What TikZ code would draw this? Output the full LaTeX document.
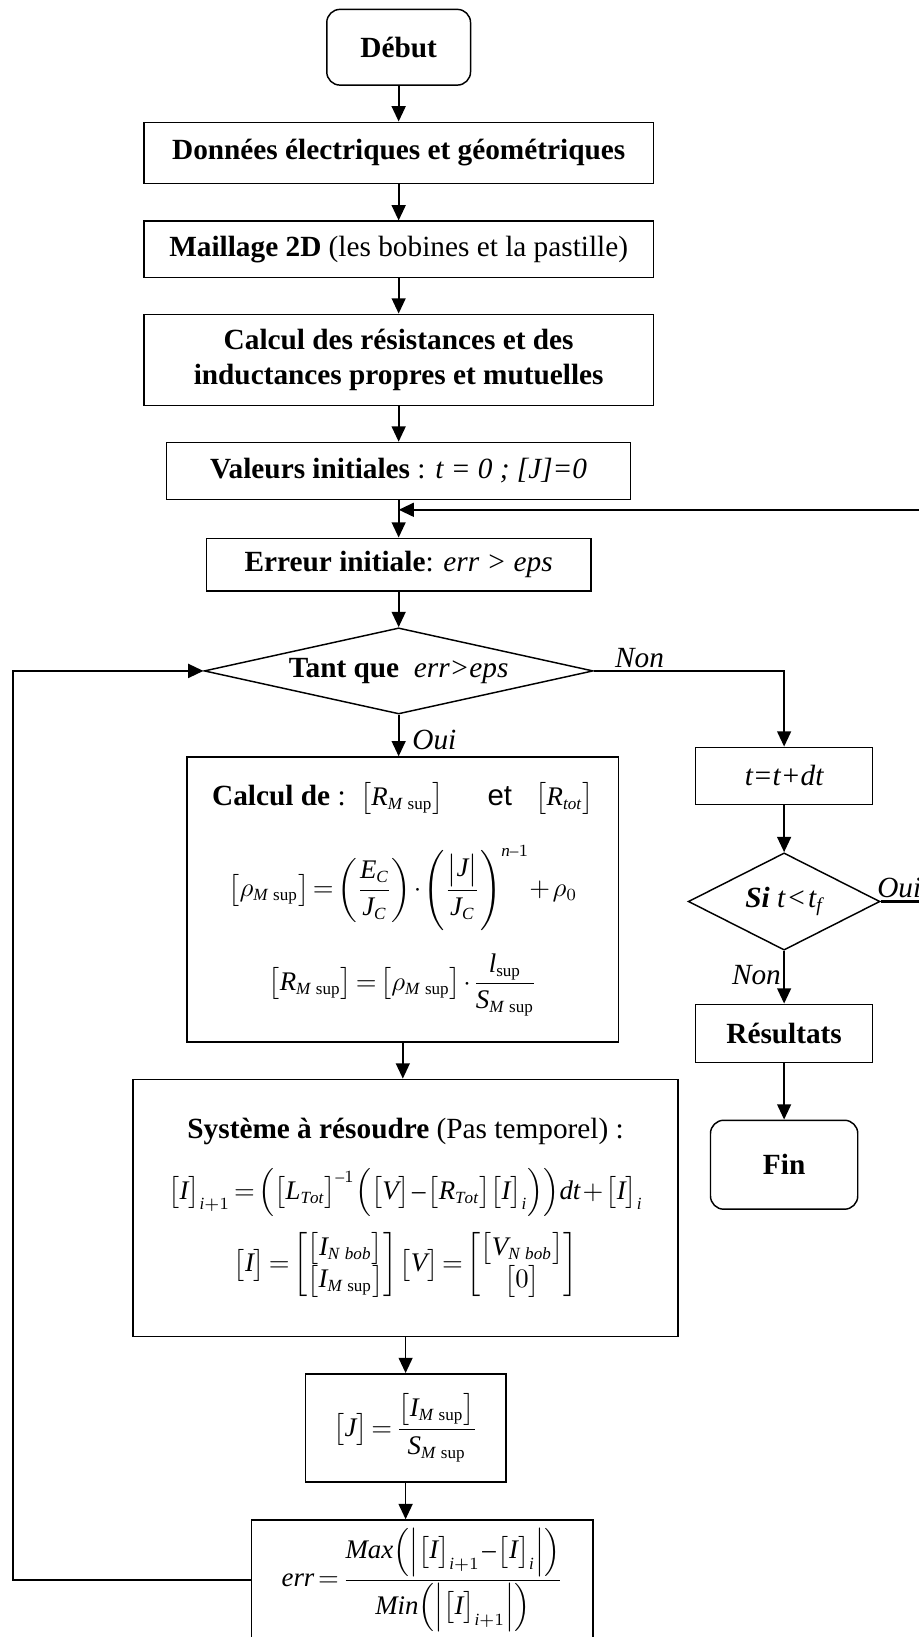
\documentclass[tikz,border=0pt,12pt]{standalone}
\usepackage{amsmath}
\usepackage{fontspec}
\setmainfont{Liberation Serif}
\setsansfont{Liberation Sans}
\usepackage[italic]{mathastext}
\usetikzlibrary{arrows.meta,shapes.geometric}

\DeclareMathSizes{11}{11}{7}{5}
\DeclareMathSizes{12}{12}{8}{6}
\newcommand{\Msup}{M\mkern5mu\mathrm{sup}}
\newcommand{\Nbob}{N\mkern5mu bob}
\newcommand{\eqsize}{\fontsize{11}{13}\selectfont
  \thickmuskip=2.5mu\medmuskip=1.5mu\thinmuskip=1.5mu}

\begin{document}
\begin{tikzpicture}[
    x=1cm, y=1cm,
    box/.style={draw, line width=0.6pt, align=center, inner sep=0pt},
    term/.style={box, rounded corners=0.19cm, font=\bfseries},
    test/.style={draw, line width=0.6pt, diamond, align=center, inner sep=0pt},
    eqbox/.style={box, font=\eqsize},
    arr/.style={-{Triangle[length=2.2mm,width=2mm]}, line width=0.7pt},
    loop/.style={arr, line width=0.9pt},
    lbl/.style={font=\itshape, inner sep=1pt}
  ]
    \useasboundingbox (0,0) rectangle (13.22,-23.57);

    \node[term, minimum width=2.07cm, minimum height=1.09cm] (debut) at (5.74,-0.68) {Début};
    \node[box, minimum width=7.34cm, minimum height=0.88cm, font=\bfseries] (donnees) at (5.74,-2.20)
      {Données électriques et géométriques};
    \node[box, minimum width=7.34cm, minimum height=0.81cm] (maillage) at (5.74,-3.59)
      {\textbf{Maillage 2D} (les bobines et la pastille)};
    \node[box, minimum width=7.34cm, minimum height=1.31cm, font=\bfseries] (resind) at (5.74,-5.18)
      {Calcul des résistances et des\\inductances propres et mutuelles};
    \node[box, minimum width=6.68cm, minimum height=0.82cm] (valinit) at (5.74,-6.78)
      {\textbf{Valeurs initiales} : \textit{t = 0 ; [J]=0}};
    \node[box, minimum width=5.54cm, minimum height=0.76cm] (errinit) at (5.74,-8.13)
      {\textbf{Erreur initiale}: \textit{err > eps}};
    \node[test, aspect=4.5, minimum width=5.60cm, minimum height=1.24cm] (tantque) at (5.74,-9.66)
      {\textbf{Tant que}\ \ \textit{err>eps}};

    \node[box, minimum width=6.21cm, minimum height=4.10cm] (calc) at (5.80,-12.95) {%
      \textbf{Calcul de} :\hspace{0.5em}{\eqsize$\bigl[R_{\Msup}\bigr]$}\hspace{1.5em}\textsf{et}\hspace{0.8em}{\eqsize$\bigl[R_{tot}\bigr]$}\\[4mm]
      {\eqsize$\displaystyle \bigl[\rho_{\Msup}\bigr]=\left(\frac{E_C}{J_C}\right)\cdot\left(\frac{\bigl|J\bigr|}{J_C}\right)^{n-1}\!+\rho_0$}\\[3mm]
      {\eqsize$\displaystyle \bigl[R_{\Msup}\bigr]=\bigl[\rho_{\Msup}\bigr]\cdot\frac{l_{\mathrm{sup}}}{S_{\Msup}}$}};
    \node[box, minimum width=7.85cm, minimum height=3.70cm] (systeme) at (5.84,-17.39) {%
      \textbf{Système à résoudre} (Pas temporel) :\\[3mm]
      {\eqsize$\displaystyle \bigl[I\bigr]_{i+1}=\Bigl(\bigl[L_{Tot}\bigr]^{-1}\Bigl(\bigl[V\bigr]-\bigl[R_{Tot}\bigr]\bigl[I\bigr]_i\Bigr)\Bigr)dt+\bigl[I\bigr]_i$}\\[2mm]
      {\eqsize$\displaystyle \bigl[I\bigr]=\begin{bmatrix}\bigl[I_{\Nbob}\bigr]\\ \bigl[I_{\Msup}\bigr]\end{bmatrix}\bigl[V\bigr]=\begin{bmatrix}\bigl[V_{\Nbob}\bigr]\\ \bigl[0\bigr]\end{bmatrix}$}};
    \node[eqbox, minimum width=2.89cm, minimum height=1.56cm] (jsup) at (5.84,-20.56)
      {$\displaystyle \bigl[J\bigr]=\frac{\bigl[I_{\Msup}\bigr]}{S_{\Msup}}$};
    \node[eqbox, minimum width=4.91cm, minimum height=1.73cm] (err) at (6.08,-22.75)
      {$\displaystyle err=\frac{Max\Bigl(\Bigl|\bigl[I\bigr]_{i+1}-\bigl[I\bigr]_i\Bigr|\Bigr)}{Min\Bigl(\Bigl|\bigl[I\bigr]_{i+1}\Bigr|\Bigr)}$};

    \node[box, minimum width=2.55cm, minimum height=0.82cm, font=\itshape] (tdt) at (11.29,-11.17) {t=t+dt};
    \node[test, aspect=2, minimum width=2.76cm, minimum height=1.40cm] (si) at (11.29,-12.98)
      {\textbf{\textit{Si}} $t\!<\!t_f$};
    \node[box, minimum width=2.55cm, minimum height=0.84cm, font=\bfseries] (res) at (11.29,-14.88) {Résultats};
    \node[term, minimum width=2.12cm, minimum height=1.28cm] (fin) at (11.29,-16.77) {Fin};

    \coordinate (join)  at (5.74,-7.34);
    \coordinate (rloop) at (13.60,-7.34);
    \coordinate (lloop) at (0.19,-22.75);

    \draw[arr] (debut) -- (donnees);
    \draw[arr] (donnees) -- (maillage);
    \draw[arr] (maillage) -- (resind);
    \draw[arr] (resind) -- (valinit);
    \draw[arr] (valinit) -- (errinit);
    \draw[arr] (errinit) -- (tantque);
    \draw[arr] (tantque) -- (tantque |- calc.north) node[lbl, right=0.15cm, pos=0.6] {Oui};
    \draw[arr] (calc.south) -- (calc.south |- systeme.north);
    \draw[arr] (systeme) -- (jsup);
    \draw[arr] (jsup) -- (jsup |- err.north);

    \draw[arr] (tantque) -- node[lbl, above, pos=0.24] {Non} (tantque -| tdt) -- (tdt);
    \draw[arr] (tdt) -- (si);
    \draw[arr] (si) -- (res) node[lbl, left, pos=0.45] {Non};
    \draw[arr] (res) -- (fin);

    \draw[loop] (si) -- node[lbl, anchor=south west, pos=0, xshift=-1mm] {Oui} (si -| rloop) -- (rloop) -- (join);
    \draw[loop] (err) -- (lloop) -- (lloop |- tantque) -- (tantque);
\end{tikzpicture}
\end{document}
